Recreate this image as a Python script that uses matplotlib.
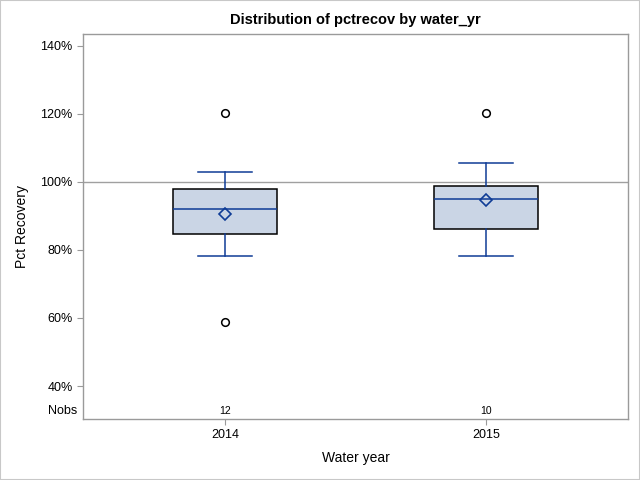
import matplotlib
matplotlib.use('Agg')
import matplotlib.pyplot as plt
from matplotlib.patches import Rectangle
from matplotlib.ticker import FuncFormatter

plt.rcParams['font.family'] = ['Liberation Sans', 'DejaVu Sans']

years = ['2014', '2015']
q1 = [84.8, 86.2]
median = [91.9, 94.9]
q3 = [97.8, 98.9]
whisker_lo = [78.1, 78.1]
whisker_hi = [102.8, 105.7]
means = [90.7, 94.6]
outliers = [[120.4, 58.9], [120.4]]
nobs = [12, 10]
ref_line = 100

blue = '#0f3c96'
frame = '#9a9a9a'

stats = []
for i in range(len(years)):
    stats.append(dict(q1=q1[i], med=median[i], q3=q3[i], whislo=whisker_lo[i],
                      whishi=whisker_hi[i], mean=means[i], fliers=outliers[i]))

fig = plt.figure(figsize=(6.4, 4.8), dpi=100)
ax = fig.add_axes([83 / 640, 1 - 419 / 480, (628 - 83) / 640, (419 - 34) / 480])

pos = list(range(len(years)))
ax.axhline(ref_line, color='#a0a0a0', linewidth=1, zorder=1)
ax.bxp(stats, positions=pos, widths=0.40, showmeans=True, patch_artist=True,
       boxprops=dict(facecolor='#cad5e5', edgecolor='black', linewidth=1.1),
       medianprops=dict(color=blue, linewidth=1.1),
       whiskerprops=dict(color=blue, linewidth=1.1),
       capprops=dict(color=blue, linewidth=1.1),
       capwidths=0.21,
       meanprops=dict(marker='D', markerfacecolor='none', markeredgecolor=blue,
                      markersize=6.5, markeredgewidth=1.2),
       flierprops=dict(marker='o', markerfacecolor='none', markeredgecolor='black',
                       markersize=5.5, markeredgewidth=1.1),
       zorder=2)

for p, n in zip(pos, nobs):
    ax.text(p, 32.6, str(n), ha='center', va='center', fontsize=7.5)
ax.text(-0.566, 32.6, 'Nobs', ha='right', va='center', fontsize=9,
        transform=ax.transData, clip_on=False)

ax.set_xlim(-0.544, 1.544)
ax.set_ylim(30.3, 143.5)
ax.set_xticks(pos)
ax.set_xticklabels(years, fontsize=9)
ax.set_yticks([40, 60, 80, 100, 120, 140])
ax.yaxis.set_major_formatter(FuncFormatter(lambda v, _: f'{v:.0f}%'))
ax.tick_params(axis='both', labelsize=9, color=frame, length=4, width=0.8)
for s in ax.spines.values():
    s.set_color(frame)
    s.set_linewidth(1)

ax.set_xlabel('Water year', fontsize=10, labelpad=7)
ax.set_ylabel('Pct Recovery', fontsize=10, labelpad=8)
ax.set_title('Distribution of pctrecov by water_yr', fontsize=10.5,
             fontweight='bold', pad=7)

fig.patches.append(Rectangle((0, 0), 1, 1, transform=fig.transFigure,
                             fill=False, edgecolor='#c8c8c8', linewidth=1.5))

fig.savefig('out.png', dpi=100)
